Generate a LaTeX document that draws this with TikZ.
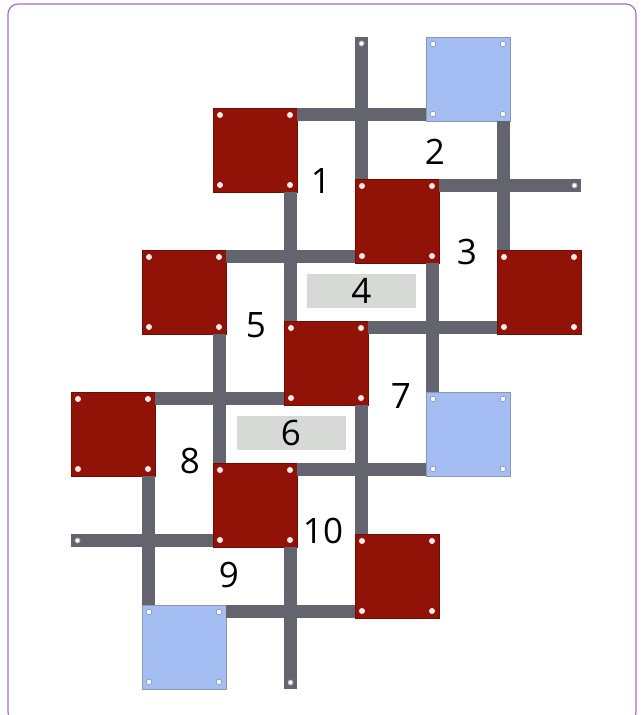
\documentclass[tikz,border=0pt]{standalone}
\usepackage{fontspec}
\setmainfont{Open Sans}
\definecolor{tileRed}{RGB}{145,18,6}
\definecolor{tileRedEdge}{RGB}{112,12,6}
\definecolor{tileBlue}{RGB}{164,189,243}
\definecolor{tileBlueEdge}{RGB}{140,152,178}
\definecolor{beamGray}{RGB}{100,100,110}
\definecolor{plateGray}{RGB}{215,217,215}
\definecolor{frameLine}{RGB}{155,115,200}
\begin{document}
\begin{tikzpicture}[x=1pt, y=-1pt,
    redtile/.style={draw=tileRedEdge, line width=0.6pt, fill=tileRed, minimum size=84pt, inner sep=0pt, outer sep=0pt},
    bluetile/.style={draw=tileBlueEdge, line width=0.6pt, fill=tileBlue, minimum size=84pt, inner sep=0pt, outer sep=0pt},
    beam/.style={fill=beamGray},
    stud/.style={fill=white!92!red},
    bluestud/.style={fill=white, draw=tileBlueEdge, line width=0.7pt},
    plate/.style={fill=plateGray, minimum width=109pt, minimum height=34pt, inner sep=0pt, font=\fontsize{35pt}{40pt}\selectfont},
    numlbl/.style={inner sep=0pt, font=\fontsize{35pt}{40pt}\selectfont}]
    \useasboundingbox (0,0) rectangle (644,715);
    \clip (0,0) rectangle (644,715);

    % Khung
    \draw[frameLine, line width=1.2pt, rounded corners=10pt] (8,4) rectangle (636,722);

    % Ô vuông đỏ
    \node[redtile] (r1) at (255,150) {};
    \node[redtile] (r2) at (397,221) {};
    \node[redtile] (r3) at (539,292) {};
    \node[redtile] (r5) at (184,292) {};
    \node[redtile] (r4) at (326,363) {};
    \node[redtile] (r6) at (113,434) {};
    \node[redtile] (r7) at (255,505) {};
    \node[redtile] (r8) at (397,576) {};

    % Ô vuông xanh
    \node[bluetile] (b1) at (468,79) {};
    \node[bluetile] (b2) at (468,434) {};
    \node[bluetile] (b3) at (184,647) {};

    % Đầu thanh tự do
    \coordinate (e1) at (368,37);
    \coordinate (e2) at (581,192);
    \coordinate (e3) at (71,534);
    \coordinate (e4) at (284,689);

    % Thanh ngang
    \fill[beam] (r1.north east) rectangle (b1.south west);
    \fill[beam] (r2.north east) rectangle (e2);
    \fill[beam] (r5.north east) rectangle (r2.south west);
    \fill[beam] (r4.north east) rectangle (r3.south west);
    \fill[beam] (r6.north east) rectangle (r4.south west);
    \fill[beam] (r7.north east) rectangle (b2.south west);
    \fill[beam] (e3) rectangle (r7.south west);
    \fill[beam] (b3.north east) rectangle (r8.south west);

    % Thanh dọc
    \fill[beam] (r2.north west) rectangle (e1);
    \fill[beam] (b1.south east) rectangle (r3.north west);
    \fill[beam] (r1.south east) rectangle (r4.north west);
    \fill[beam] (r2.south east) rectangle (b2.north west);
    \fill[beam] (r5.south east) rectangle (r7.north west);
    \fill[beam] (r4.south east) rectangle (r8.north west);
    \fill[beam] (r6.south east) rectangle (b3.north west);
    \fill[beam] (r7.south east) rectangle (e4);

    % Đinh ở góc
    \foreach \s in {r1,r2,r3,r4,r5,r6,r7,r8}
        \foreach \c/\dx/\dy in {north west/7/7, north east/-7/7, south west/7/-7, south east/-7/-7}
            \fill[stud] ([shift={(\dx,\dy)}]\s.\c) circle (3);
    \foreach \s in {b1,b2,b3}
        \foreach \c/\dx/\dy in {north west/7/7, north east/-7/7, south west/7/-7, south east/-7/-7}
            \draw[bluestud] ([shift={(\dx,\dy)}]\s.\c) circle (2.8);
    \draw[bluestud, draw=beamGray!60] ([shift={(-6.5,6.5)}]e1) circle (2.6);
    \draw[bluestud, draw=beamGray!60] ([shift={(-6.5,-6.5)}]e2) circle (2.6);
    \draw[bluestud, draw=beamGray!60] ([shift={(6.5,6.5)}]e3) circle (2.6);
    \draw[bluestud, draw=beamGray!60] ([shift={(6.5,-6.5)}]e4) circle (2.6);

    % Tấm xám
    \node[plate] (p4) at (361.5,291) {4};
    \node[plate] (p6) at (291,433) {6};

    % Số
    \node[numlbl] (n1) at (321,181) {1};
    \node[numlbl] (n2) at (435,152) {2};
    \node[numlbl] (n3) at (467,252) {3};
    \node[numlbl] (n5) at (256,325) {5};
    \node[numlbl] (n7) at (401,396) {7};
    \node[numlbl] (n8) at (190,461) {8};
    \node[numlbl] (n9) at (229,575) {9};
    \node[numlbl] (n10) at (323,531) {10};
\end{tikzpicture}
\end{document}
